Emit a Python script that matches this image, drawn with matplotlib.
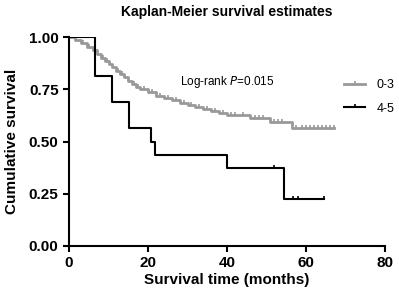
import matplotlib
matplotlib.use("Agg")
import matplotlib.pyplot as plt
from matplotlib.path import Path
import numpy as np

plt.rcParams['font.family'] = ['Liberation Sans', 'DejaVu Sans']

# Group 0-3 (gray): event times and survival after each event
g03_times = [0, 1.5, 3, 4.5, 6, 7, 8, 9, 10, 11, 12, 13, 14, 15, 16, 17, 18, 20, 22,
             24, 26, 28, 30, 32, 34, 36, 38, 40, 45.8, 50.9, 56.4]
g03_surv = [1.0, 0.985, 0.97, 0.955, 0.94, 0.92, 0.90, 0.885, 0.87, 0.855, 0.84, 0.825,
            0.81, 0.79, 0.775, 0.76, 0.75, 0.735, 0.72, 0.71, 0.70, 0.685, 0.675, 0.665,
            0.655, 0.645, 0.635, 0.627, 0.611, 0.595, 0.565]
g03_end = 67.2
g03_censor = [3.5, 5, 8.5, 9.5, 12.5, 13.5, 16.5, 17.5, 19, 21, 23, 25, 27, 29, 31, 33,
              35, 37, 39, 41, 42, 44, 47, 48, 49, 52, 53, 54, 57.5, 59, 60, 61, 62, 63,
              64, 65, 66, 67.2]

# Group 4-5 (black)
g45_times = [0, 6.6, 11.0, 15.2, 20.7, 21.8, 40.0, 54.4]
g45_surv = [1.0, 0.8125, 0.6875, 0.5625, 0.5, 0.4375, 0.375, 0.225]
g45_end = 64.6
g45_censor = [52.0, 56.8, 57.9, 64.6]

labels = ["0-3", "4-5"]
colors = ["#999999", "#000000"]

xticks = [0, 20, 40, 60, 80]
yticks = [0.0, 0.25, 0.5, 0.75, 1.0]

up_tick = Path([(0, 0), (0, 1)], [Path.MOVETO, Path.LINETO])

fig = plt.figure(figsize=(3.99, 2.97), dpi=100)
ax = fig.add_axes([0.173, 0.172, 0.792, 0.703])

def surv_at(times, surv, t):
    idx = np.searchsorted(times, t, side='right') - 1
    return surv[idx]

for times, surv, end, cens, col, lab, lw in [
        (g03_times, g03_surv, g03_end, g03_censor, colors[0], labels[0], 2.0),
        (g45_times, g45_surv, g45_end, g45_censor, colors[1], labels[1], 1.5)]:
    xs = list(times) + [end]
    ys = list(surv) + [surv[-1]]
    ax.step(xs, ys, where='post', color=col, lw=lw)
    cy = [surv_at(np.array(times), np.array(surv), c) for c in cens]
    ax.plot(cens, cy, ls='none', marker=up_tick, ms=4, mew=1.2, color=col)
    ax.plot([], [], color=col, lw=lw, marker=up_tick, ms=4, mew=1.2, label=lab)

ax.set_xlim(0, 80)
ax.set_ylim(0, 1.0)
ax.set_xticks(xticks)
ax.set_yticks(yticks)
ax.set_yticklabels([f"{v:.2f}" for v in yticks])
for s in ['top', 'right']:
    ax.spines[s].set_visible(False)
for s in ['left', 'bottom']:
    ax.spines[s].set_linewidth(1.5)
ax.tick_params(direction='out', length=4, width=1.5, labelsize=11)
for lbl in ax.get_xticklabels() + ax.get_yticklabels():
    lbl.set_fontweight('bold')

ax.set_xlabel("Survival time (months)", fontsize=11, fontweight='bold', labelpad=2)
ax.set_ylabel("Cumulative survival", fontsize=11, fontweight='bold', labelpad=7)
ax.set_title("Kaplan-Meier survival estimates", fontsize=10, fontweight='bold', pad=15)

ax.text(28, 0.785, r"Log-rank $\it{P}$=0.015", fontsize=8.5, va='center', ha='left')

leg = ax.legend(loc='upper left', bbox_to_anchor=(0.855, 0.822), frameon=False,
                fontsize=9, handlelength=1.7, labelspacing=0.9, handletextpad=0.9,
                numpoints=1, borderaxespad=0.0)

fig.savefig("out.png", dpi=100)
